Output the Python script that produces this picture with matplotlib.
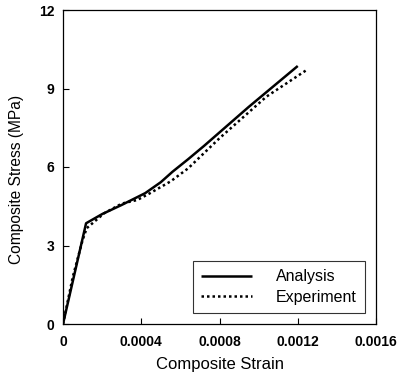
import matplotlib
matplotlib.use("Agg")
import matplotlib.pyplot as plt

plt.rcParams['font.family'] = ['Liberation Sans', 'DejaVu Sans']

analysis_strain = [0, 0.000118, 0.00020, 0.00030, 0.00042, 0.00050, 0.00056, 0.00064, 0.00072, 0.00095, 0.00120]
analysis_stress = [0, 3.85, 4.20, 4.55, 5.00, 5.42, 5.82, 6.30, 6.80, 8.30, 9.86]

exp_strain = [0, 0.00005, 0.00010, 0.000121, 0.00021, 0.00030, 0.00038, 0.000445, 0.00055, 0.00064, 0.00080, 0.00104, 0.001246]
exp_stress = [0, 1.80, 3.20, 3.66, 4.23, 4.60, 4.74, 5.00, 5.45, 5.95, 7.10, 8.69, 9.71]

xticks = [0, 0.0004, 0.0008, 0.0012, 0.0016]
xtick_labels = ['0', '0.0004', '0.0008', '0.0012', '0.0016']
yticks = [0, 3, 6, 9, 12]

fig = plt.figure(figsize=(3.98, 3.78), dpi=100)
ax = fig.add_axes([63/398, 54/378, 313/398, 314/378])

ax.plot(analysis_strain, analysis_stress, color='black', lw=1.8, solid_capstyle='butt', label='Analysis')
ax.plot(exp_strain, exp_stress, color='black', lw=1.8, linestyle=(0, (1, 1.2)), label='Experiment')

ax.set_xlim(0, 0.0016)
ax.set_ylim(0, 12)
ax.set_xticks(xticks)
ax.set_xticklabels(xtick_labels)
ax.set_yticks(yticks)
ax.tick_params(direction='in', length=4, width=0.8, labelsize=10)
ax.tick_params(axis='x', pad=8)
ax.tick_params(axis='y', pad=6)
for lbl in ax.get_xticklabels() + ax.get_yticklabels():
    lbl.set_fontweight('bold')
for s in ax.spines.values():
    s.set_linewidth(0.9)

ax.set_xlabel('Composite Strain', fontsize=12, labelpad=6)
ax.set_ylabel('Composite Stress (MPa)', fontsize=11.2)
ax.yaxis.set_label_coords(-0.125, 0.46)

leg = ax.legend(loc='lower right', frameon=True, fancybox=False, edgecolor='black',
                fontsize=11.5, handlelength=3.2, borderpad=0.5, labelspacing=0.35,
                handletextpad=1.5, borderaxespad=0.7)
leg.get_frame().set_linewidth(0.8)

fig.savefig('out.png', dpi=100)
